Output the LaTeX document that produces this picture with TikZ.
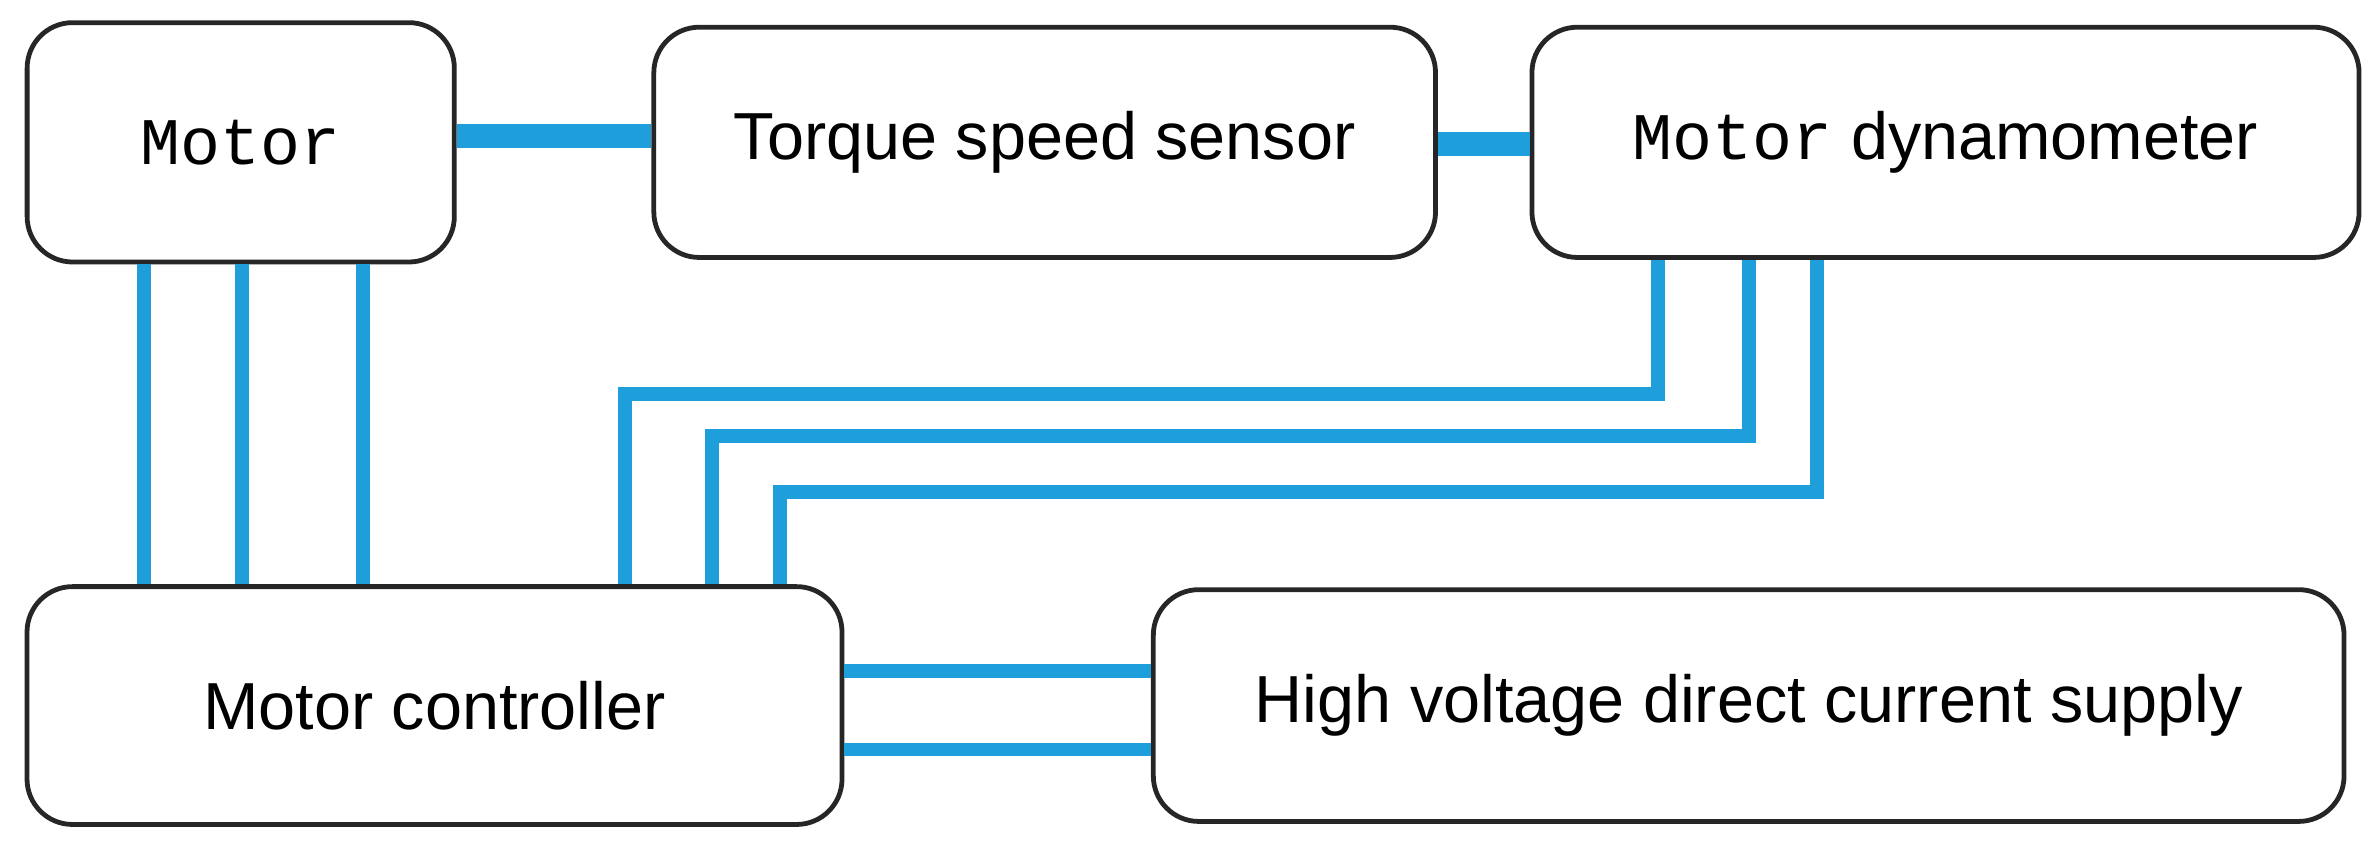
\documentclass[tikz,border=0pt]{standalone}
\usepackage{fontspec}
\setmainfont{Liberation Sans}
\newfontfamily\monofont{Liberation Mono}
\usetikzlibrary{positioning}
\definecolor{wireblue}{HTML}{1E9FDB}

\begin{document}
\begin{tikzpicture}[
    x=0.01cm, y=-0.01cm,
    box/.style={rectangle, draw=black!85, rounded corners=0.3cm, line width=0.9pt, align=center, font=\fontsize{12.5}{15}\selectfont},
    wire/.style={line width=2.6pt, color=wireblue},
    shaft/.style={line width=4.5pt, color=wireblue}
]
\useasboundingbox (0,0) rectangle (1568,560);

% Top row
\node[box, minimum width=2.82cm, minimum height=1.58cm] (motor) at (159,94) {{\monofont Motor}};
\node[box, minimum width=5.16cm, minimum height=1.52cm] (sensor) at (690,94) {Torque speed sensor};
\node[box, minimum width=5.46cm, minimum height=1.52cm] (dyno) at (1285,94) {{\monofont Motor} dynamometer};

% Bottom row
\node[box, minimum width=5.38cm, minimum height=1.57cm] (ctrl) at (287,466) {Motor controller};
\node[box, minimum width=7.86cm, minimum height=1.53cm] (supply) at (1155,466) {High voltage direct current supply};

% Shaft
\draw[shaft] (motor.east |- 0,90) -- (sensor.west |- 0,90);
\draw[shaft] (sensor.east |- 0,95) -- (dyno.west |- 0,95);

% Motor phases
\foreach \px in {95,160,240}
    \draw[wire] (motor.south -| \px,0) -- (ctrl.north -| \px,0);

% Dynamometer signals
\coordinate (a1) at (1095,260);
\coordinate (a2) at (1155,288);
\coordinate (a3) at (1200,325);
\coordinate (b1) at (413,388);
\coordinate (b2) at (470,388);
\coordinate (b3) at (515,388);
\draw[wire] (dyno.south -| a1) -- (a1) -| (ctrl.north -| b1);
\draw[wire] (dyno.south -| a2) -- (a2) -| (ctrl.north -| b2);
\draw[wire] (dyno.south -| a3) -- (a3) -| (ctrl.north -| b3);

% DC supply
\draw[wire] (ctrl.east |- 0,443) -- (supply.west |- 0,443);
\draw[wire] (ctrl.east |- 0,495) -- (supply.west |- 0,495);

\end{tikzpicture}
\end{document}
